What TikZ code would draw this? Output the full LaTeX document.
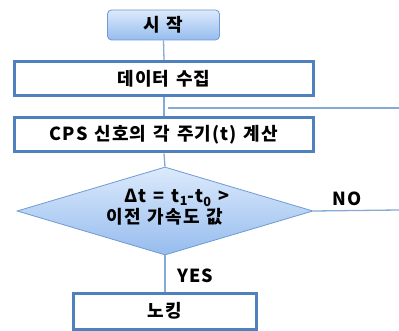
\documentclass[tikz,border=0pt]{standalone}
\usepackage{fontspec}
\setmainfont{Noto Sans CJK KR}[LetterSpace=6]
\usetikzlibrary{shapes.geometric}
\definecolor{bordblue}{RGB}{79,129,189}
\definecolor{linkblue}{RGB}{135,170,212}
\definecolor{filltop}{RGB}{220,234,252}
\definecolor{fillbot}{RGB}{150,188,238}
\definecolor{thinblue}{RGB}{110,155,210}
\newcommand{\bigfont}{\fontsize{18}{22}\selectfont\bfseries\spaceskip=7pt plus 1pt\relax}
\tikzset{
  x=1pt, y=-1pt,
  startbox/.style={draw=thinblue, line width=0.8pt, rounded corners=4pt, inner sep=0pt,
    top color=filltop, bottom color=fillbot, minimum width=112pt, minimum height=30pt, font=\bigfont},
  procbox/.style={draw=bordblue, line width=3pt, fill=white, inner sep=0pt,
    minimum width=299pt, minimum height=34pt, font=\bigfont},
  decbox/.style={diamond, draw=thinblue, line width=0.8pt, top color=filltop, bottom color=fillbot,
    inner sep=0pt, aspect=3.36, minimum width=296pt, minimum height=88pt, align=center, font=\bigfont},
  conn/.style={draw=linkblue, line width=1.3pt},
  lbl/.style={font=\bigfont, inner sep=0pt}
}
\begin{document}
\begin{tikzpicture}
\useasboundingbox (0,0) rectangle (399,331);
\fill[white] (0,0) rectangle (399,331);
\node[startbox] (start) at (163.5,25) {시 작};
\node[procbox] (collect) at (164,78.5) {데이터 수집};
\node[procbox] (calc) at (164,135) {CPS 신호의 각 주기(t) 계산};
\node[decbox] (dec) at (165,211) {\hspace*{24pt}Δt = t\textsubscript{1}-t\textsubscript{0} >\\[-1pt]이전 가속도 값\rule[-9pt]{0pt}{9pt}};
\node[procbox, minimum width=183pt, minimum height=36pt] (knock) at (165,311) {노킹};
\coordinate (loopstart) at (168,108);
\coordinate (loopend) at (399,108);
\coordinate (noend) at (399,210);
\draw[conn] (start.south) -- (collect.north);
\draw[conn] (collect.south) -- (calc.north);
\draw[conn] (calc.south) -- (dec.north);
\draw[conn] (dec.south) -- (knock.north);
\draw[conn] (dec.east) -- (noend);
\draw[conn] (loopstart) -- (loopend);
\node[lbl] (no) at (347,199) {NO};
\node[lbl] (yes) at (195,276) {YES};
\end{tikzpicture}
\end{document}
